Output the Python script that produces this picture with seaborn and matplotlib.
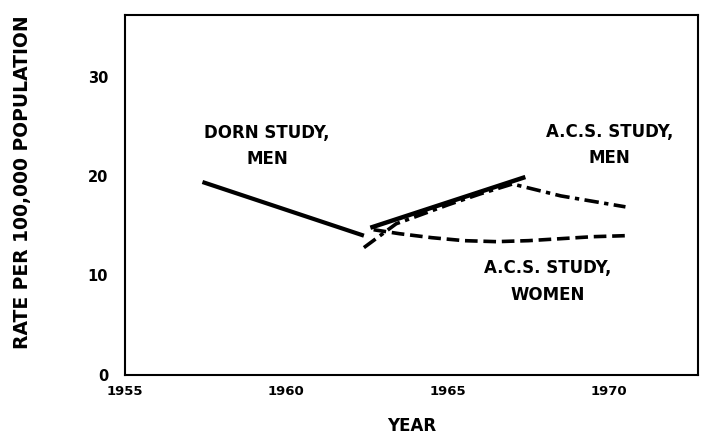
import numpy as np
import pandas as pd
import seaborn as sns
import matplotlib.pyplot as plt

# values
dorn_years = [1957.4, 1962.4]
dorn_rate = [19.4, 14.0]

dorn_late_years = [1962.6, 1967.4]
dorn_late_rate = [14.8, 19.9]

acs_men_years = [1962.4, 1963.4, 1965.0, 1966.0, 1967.0, 1968.5, 1970.5]
acs_men_rate = [12.8, 15.2, 17.1, 18.2, 19.2, 18.0, 16.9]

acs_women_years = [1962.7, 1963.5, 1964.5, 1965.5, 1966.5, 1967.5, 1968.5, 1969.5, 1970.5]
acs_women_rate = [14.6, 14.2, 13.8, 13.5, 13.4, 13.5, 13.7, 13.9, 14.0]

major_years = [1955, 1960, 1965, 1970]
minor_years = list(range(1956, 1973))
y_ticks = [0, 10, 20, 30]

sns.set_style("white")
plt.rcParams['font.family'] = ['DejaVu Sans']
plt.rcParams['font.weight'] = 'bold'
for k in ['text.color', 'axes.labelcolor', 'xtick.color', 'ytick.color']:
    plt.rcParams[k] = 'black'

fig = plt.figure(figsize=(7.02, 4.40), dpi=100)
ax = fig.add_axes([0.178, 0.148, 0.816, 0.818])

# Dorn study, men (solid)
sns.lineplot(x=dorn_years, y=dorn_rate, ax=ax, color='black', lw=3.0,
             solid_capstyle='butt')
sns.lineplot(x=dorn_late_years, y=dorn_late_rate, ax=ax, color='black', lw=3.2,
             solid_capstyle='butt')
# A.C.S. study, men (dash-dot)
ax.plot(acs_men_years, acs_men_rate, color='black', lw=2.6,
        dashes=(4, 1.5, 1.2, 1.5))
# A.C.S. study, women (dashed)
ax.plot(acs_women_years, acs_women_rate, color='black', lw=2.6,
        dashes=(3.5, 1.6))

ax.set_xlim(1955, 1972.74)
ax.set_ylim(0, 36.2)
ax.set_xticks(major_years)
ax.set_xticks(minor_years, minor=True)
ax.set_xticklabels([str(y) for y in major_years], fontsize=9.5, fontweight='bold')
ax.set_yticks(y_ticks)
ax.set_yticklabels([str(v) for v in y_ticks], fontsize=10.5, fontweight='bold')
ax.tick_params(axis='x', which='both', direction='in', length=5, width=1.2, pad=7)
ax.tick_params(axis='y', direction='in', length=6, width=1.2, pad=12)

for s in ax.spines.values():
    s.set_visible(True)
    s.set_linewidth(1.5)
    s.set_color('black')

ax.set_xlabel('YEAR', fontsize=12, fontweight='bold', labelpad=14)
ax.set_ylabel('RATE PER 100,000 POPULATION', fontsize=13.5, fontweight='bold')
ax.yaxis.set_label_coords(-0.163, 0.536)

ax.text(1959.4, 23.0, 'DORN STUDY,\nMEN', ha='center', va='center', fontsize=12,
        fontweight='bold', linespacing=1.6)
ax.text(1970.0, 23.1, 'A.C.S. STUDY,\nMEN', ha='center', va='center', fontsize=12,
        fontweight='bold', linespacing=1.6)
ax.text(1968.1, 9.4, 'A.C.S. STUDY,\nWOMEN', ha='center', va='center', fontsize=12,
        fontweight='bold', linespacing=1.6)

plt.savefig('out.png', dpi=100)
